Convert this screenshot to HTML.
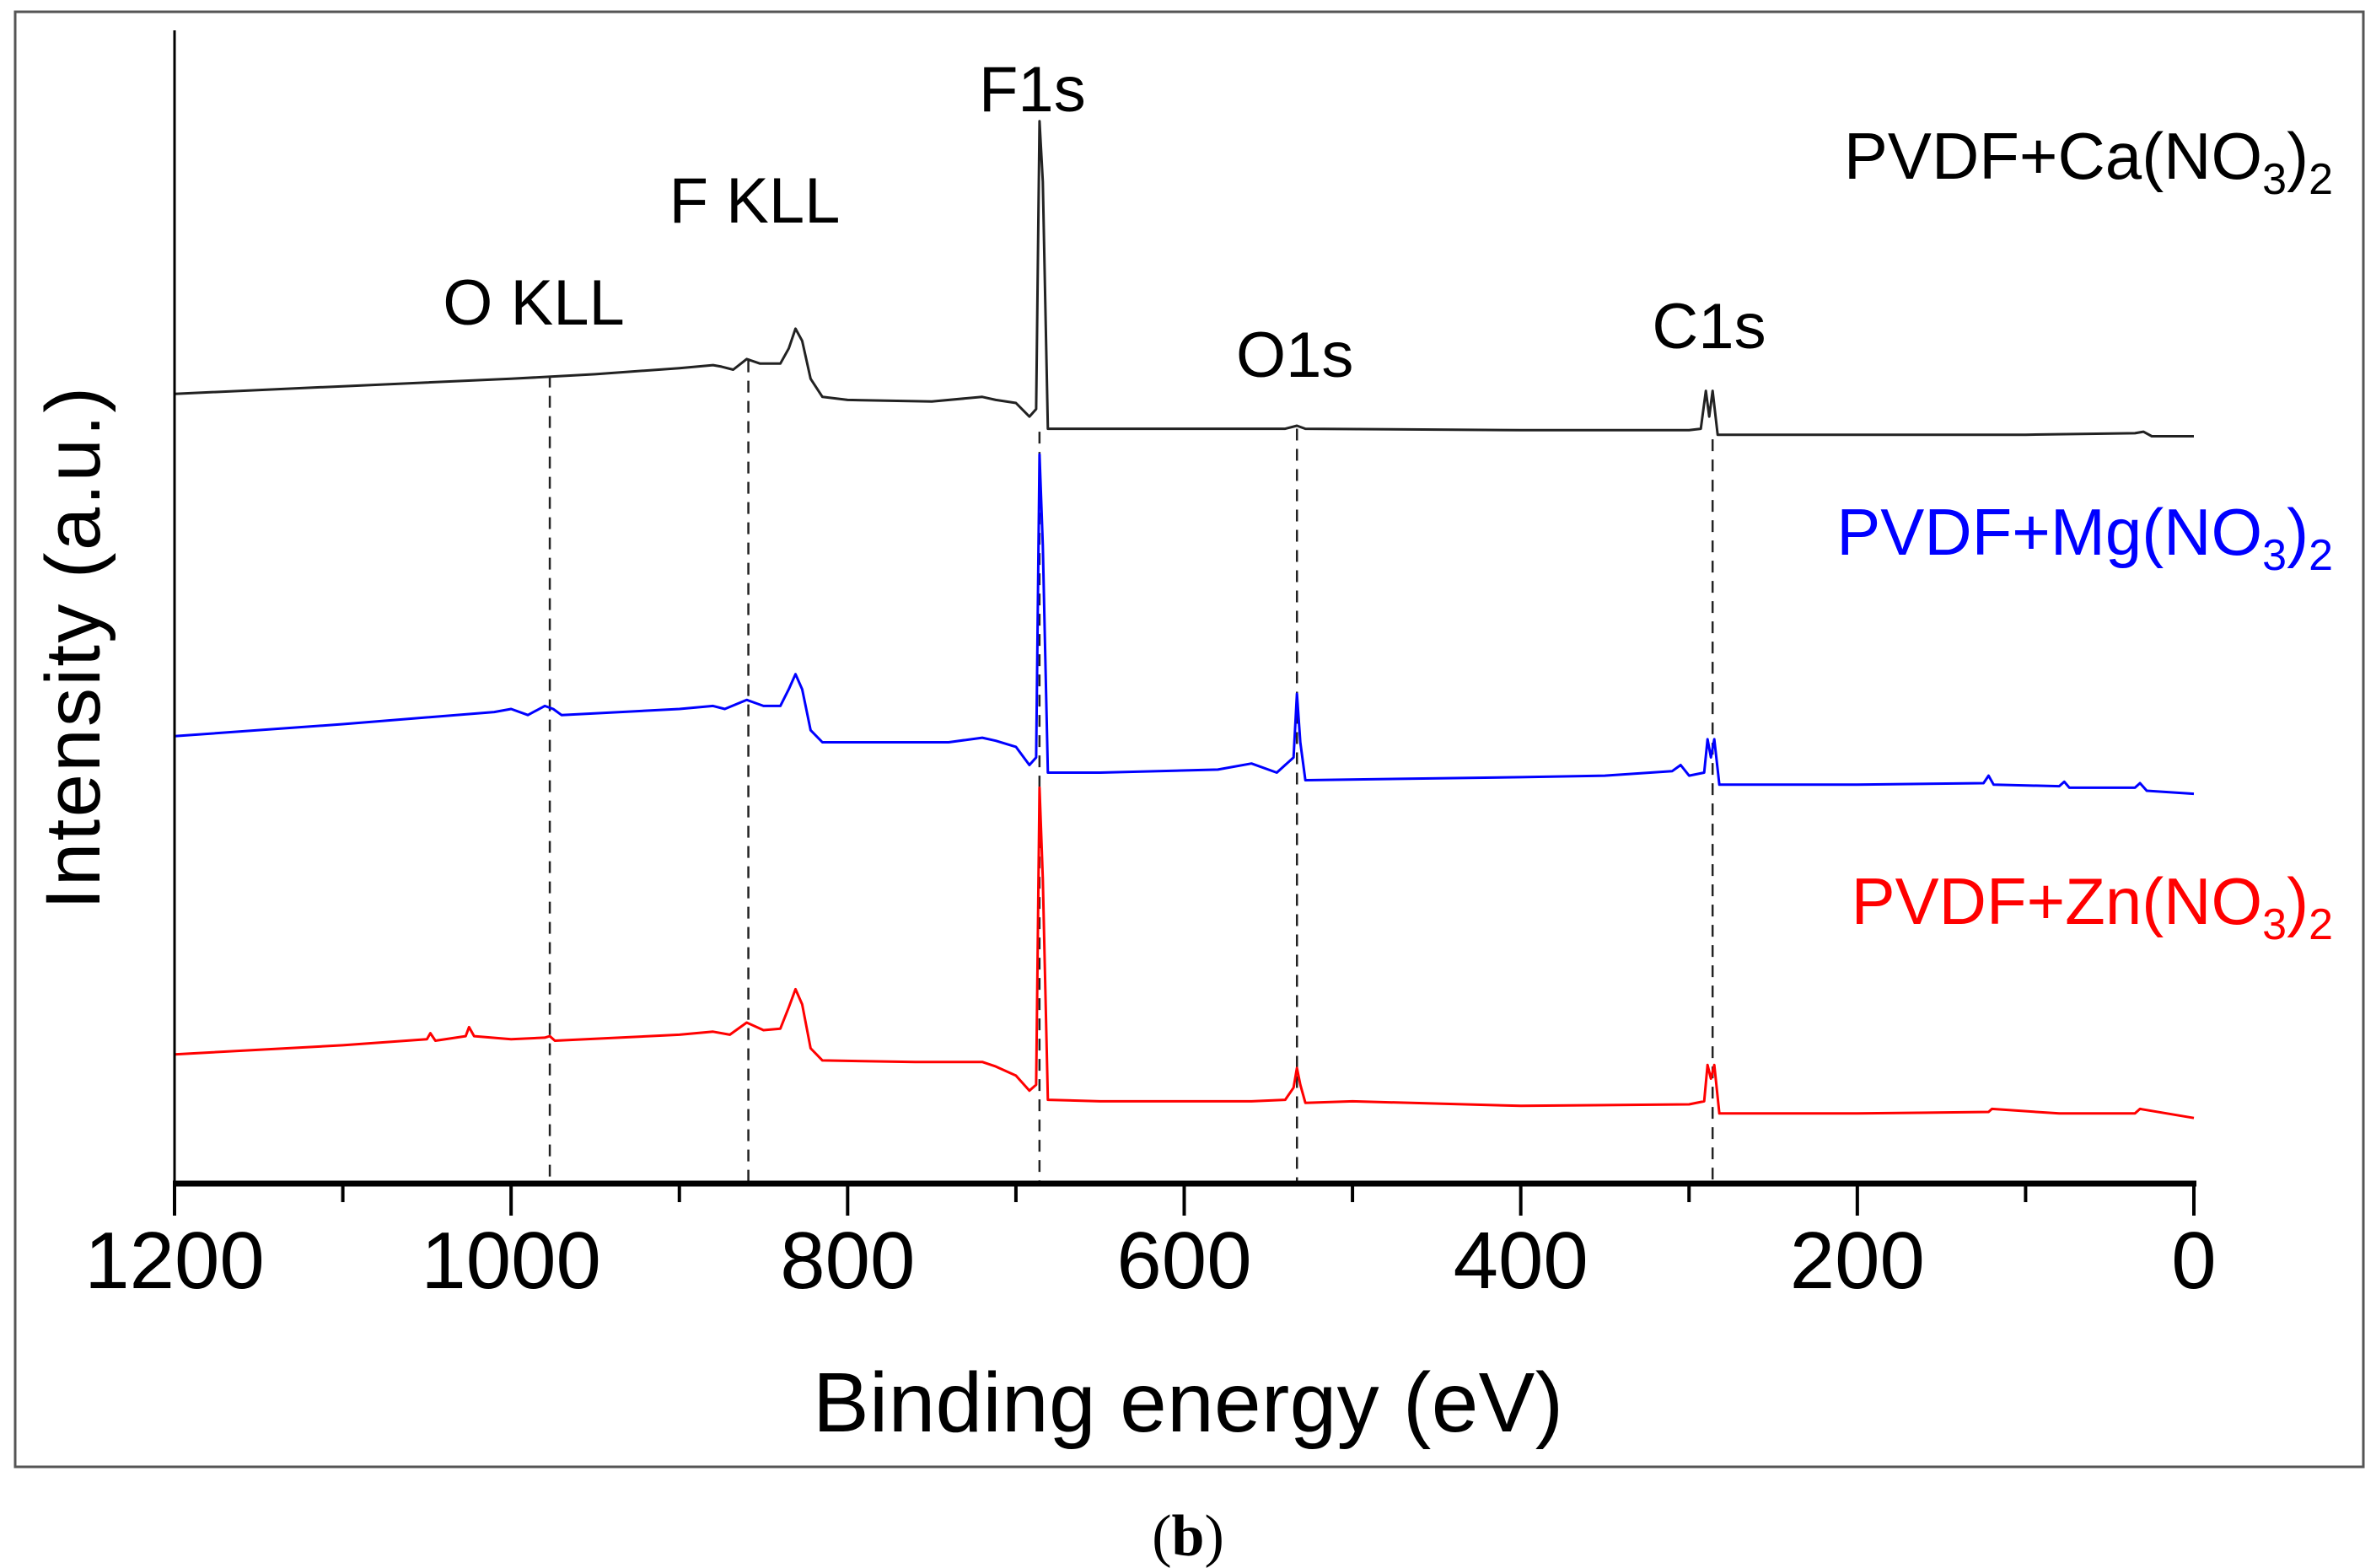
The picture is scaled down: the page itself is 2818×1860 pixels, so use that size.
<!DOCTYPE html>
<html><head><meta charset="utf-8"><style>html,body{margin:0;padding:0;background:#fff}svg{display:block}</style></head>
<body>
<svg id="chart" width="2818" height="1860" viewBox="0 0 2818 1860" xmlns="http://www.w3.org/2000/svg" font-family="Liberation Sans, sans-serif">
<rect x="18" y="14" width="2785" height="1726" fill="none" stroke="#555" stroke-width="3"/>
<g id="dashes"></g>
<g id="series"></g>
<line x1="207" y1="36" x2="207" y2="1404" stroke="#000" stroke-width="3"/>
<line x1="205" y1="1404" x2="2605" y2="1404" stroke="#000" stroke-width="7"/>
<g id="ticks"></g>
<text x="1409" y="1698" font-size="100" text-anchor="middle" textLength="890">Binding energy (eV)</text>
<text transform="translate(118,769) rotate(-90)" font-size="92" text-anchor="middle" textLength="620">Intensity (a.u.)</text>
<g font-size="76">
<text x="633" y="385" text-anchor="middle">O KLL</text>
<text x="895" y="264" text-anchor="middle">F KLL</text>
<text x="1161" y="132">F1s</text>
<text x="1466" y="447">O1s</text>
<text x="2027" y="413" text-anchor="middle">C1s</text>
<text x="2767" y="212" font-size="78" text-anchor="end" fill="#000">PVDF+Ca(NO<tspan font-size="52" dy="18">3</tspan><tspan dy="-18">)</tspan><tspan font-size="52" dy="18">2</tspan></text>
<text x="2767" y="658" font-size="78" text-anchor="end" fill="#0000ff">PVDF+Mg(NO<tspan font-size="52" dy="18">3</tspan><tspan dy="-18">)</tspan><tspan font-size="52" dy="18">2</tspan></text>
<text x="2767" y="1096" font-size="78" text-anchor="end" fill="#ff0000">PVDF+Zn(NO<tspan font-size="52" dy="18">3</tspan><tspan dy="-18">)</tspan><tspan font-size="52" dy="18">2</tspan></text>
</g>
<text x="1409" y="1845" font-family="Liberation Serif, serif" font-size="70" text-anchor="middle">(<tspan font-weight="bold">b</tspan>)</text>
</svg>
<script>
const caE=[1200,1100,1000,950,900,880,875,868,860,852,840,835,831,827,822,815,800,750,720,712,700,692,688,686,684,681,650,540,533,528,400,300,293,290,288,286,283,200,100,35,30,25,0];
const caI=[540,545,550,553,557,559,558,556,563,560,560,570,583,575,550,538,536,535,538,536,534,525,530,720,680,517,517,517,519,517,516,516,517,542,525,542,513,513,513,514,515,512,512];
const mgE=[1200,1100,1010,1000,990,980,975,970,900,880,873,860,850,840,835,831,827,822,815,780,740,720,712,700,692,688,686,684,681,650,580,560,545,535,533,531,528,400,350,310,305,300,291,289,287,285,282,200,125,122,119,80,77,74,35,32,28,0];
const mgI=[314,322,330,332,328,334,332,328,332,334,332,338,334,334,345,355,345,318,310,310,310,313,311,307,295,300,500,440,290,290,292,296,290,300,342,310,285,287,288,291,295,288,290,312,300,312,282,282,283,288,282,281,284,280,280,283,278,276];
const znE=[1200,1100,1050,1048,1045,1027,1025,1022,1000,980,977,974,900,880,870,860,850,840,835,831,827,822,815,760,720,712,700,692,688,686,684,681,650,560,540,535,533,531,528,500,400,300,291,289,287,285,282,200,122,120,80,35,32,0];
const znI=[104,110,114,118,113,116,122,116,114,115,116,113,117,119,117,125,120,121,135,147,137,108,100,99,99,96,90,80,84,280,220,74,73,73,74,82,95,84,72,73,70,71,73,97,88,97,65,65,66,68,65,65,68,62];
const guideE=[977,859,686,533,286];
const guideTopI=[552,562,515,517,510];
const majorTicks=[1200,1000,800,600,400,200,0];
const minorTicks=[1100,900,700,500,300,100];

const X0=207,X1=2602,YAX=1404,K=1.797;
const xs=e=>X0+(1200-e)/1200*(X1-X0);
const ys=i=>(800-i)*K;
const NS='http://www.w3.org/2000/svg';
function mk(t,p){const el=document.createElementNS(NS,t);for(const k in p)el.setAttribute(k,p[k]);return el;}
const dg=document.getElementById('dashes');
guideE.forEach((e,k)=>{const l=mk('line',{x1:xs(e),x2:xs(e),y1:ys(guideTopI[k]),y2:YAX,stroke:'#222','stroke-width':2.5,'stroke-dasharray':'14 10'});


dg.appendChild(l);});
const sg=document.getElementById('series');
[[caE,caI,'#222','series-ca'],[mgE,mgI,'#0000ff','series-mg'],[znE,znI,'#ff0000','series-zn']].forEach(s=>{
const pts=s[0].map((e,k)=>xs(e).toFixed(1)+','+ys(s[1][k]).toFixed(1)).join(' ');
const pl=mk('polyline',{points:pts,fill:'none',stroke:s[2],'stroke-width':3,'stroke-linejoin':'round'});


sg.appendChild(pl);});
const tg=document.getElementById('ticks');
majorTicks.forEach(v=>{const l=mk('line',{x1:xs(v),x2:xs(v),y1:YAX,y2:YAX+38,stroke:'#000','stroke-width':4});


tg.appendChild(l);
const t=mk('text',{x:xs(v),y:1528,'font-size':96,'text-anchor':'middle'});t.textContent=String(v);


tg.appendChild(t);});
minorTicks.forEach(v=>{const l=mk('line',{x1:xs(v),x2:xs(v),y1:YAX,y2:YAX+22,stroke:'#000','stroke-width':4});


tg.appendChild(l);});
</script>
</body></html>
